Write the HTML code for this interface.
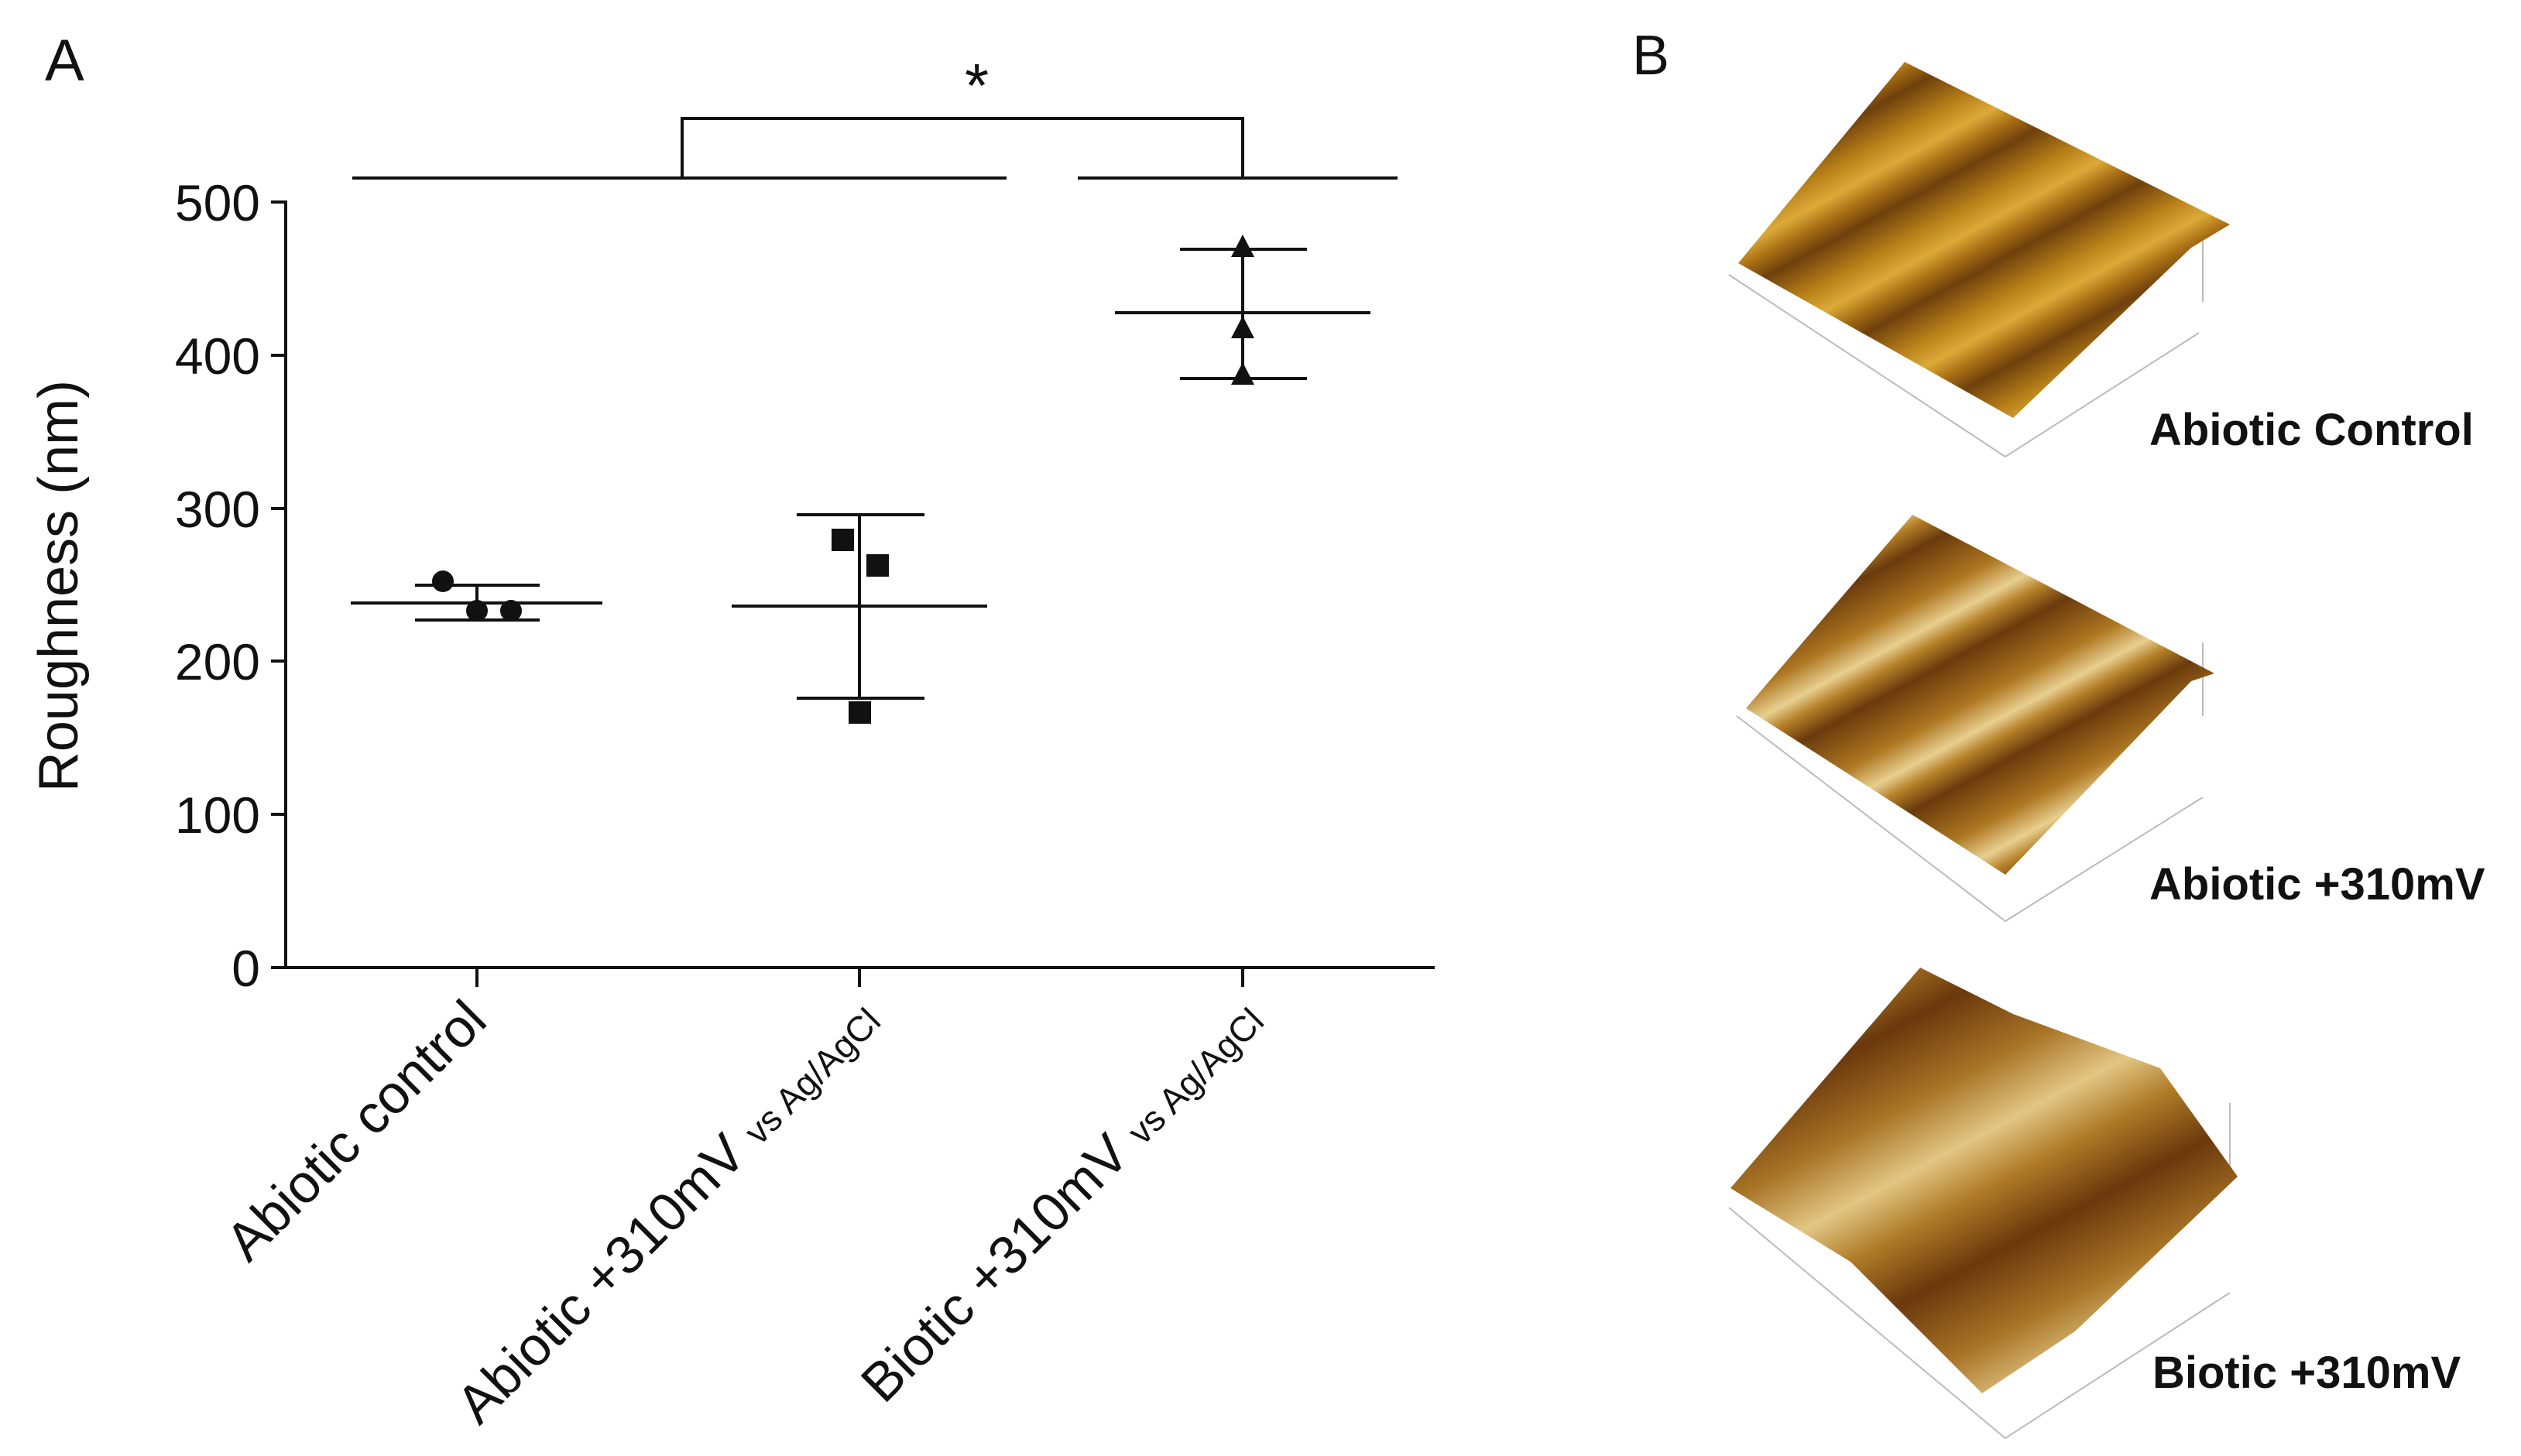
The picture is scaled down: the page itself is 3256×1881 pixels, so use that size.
<!DOCTYPE html>
<html><head><meta charset="utf-8"><style>
html,body{margin:0;padding:0;background:#fff;}
svg{display:block;}
text{font-family:"Liberation Sans",sans-serif;fill:#111;}
</style></head><body>
<svg width="3256" height="1881" viewBox="0 0 3256 1881" xmlns="http://www.w3.org/2000/svg">
<defs>
<linearGradient id="g1" gradientUnits="userSpaceOnUse" x1="2400" y1="150" x2="2460" y2="260" spreadMethod="repeat">
<stop offset="0" stop-color="#6e400c"/><stop offset="0.35" stop-color="#b88018"/><stop offset="0.6" stop-color="#dcaa38"/><stop offset="0.8" stop-color="#a86e14"/><stop offset="1" stop-color="#6e400c"/>
</linearGradient>
<linearGradient id="g2" gradientUnits="userSpaceOnUse" x1="2400" y1="750" x2="2470" y2="880" spreadMethod="repeat">
<stop offset="0" stop-color="#6a3a0c"/><stop offset="0.4" stop-color="#ad7620"/><stop offset="0.65" stop-color="#e8cf90"/><stop offset="0.8" stop-color="#b58028"/><stop offset="1" stop-color="#6a3a0c"/>
</linearGradient>
<linearGradient id="g3" gradientUnits="userSpaceOnUse" x1="2350" y1="1380" x2="2500" y2="1660" spreadMethod="repeat">
<stop offset="0" stop-color="#6a380c"/><stop offset="0.3" stop-color="#a87426"/><stop offset="0.55" stop-color="#e2c684"/><stop offset="0.75" stop-color="#b07c28"/><stop offset="1" stop-color="#6a380c"/>
</linearGradient>
</defs>

<!-- Panel A -->
<text x="58" y="104" font-size="76">A</text>
<text x="1246" y="138" font-size="80">*</text>
<g stroke="#111" stroke-width="4" fill="none">
<line x1="455" y1="230" x2="1300" y2="230"/>
<line x1="1392" y1="230" x2="1805" y2="230"/>
<polyline points="881,230 881,153 1605,153 1605,230"/>
<line x1="369" y1="259" x2="369" y2="1252"/>
<line x1="367" y1="1250" x2="1853" y2="1250"/>
<line x1="350" y1="261" x2="369" y2="261"/>
<line x1="350" y1="459" x2="369" y2="459"/>
<line x1="350" y1="657" x2="369" y2="657"/>
<line x1="350" y1="854" x2="369" y2="854"/>
<line x1="350" y1="1052" x2="369" y2="1052"/>
<line x1="350" y1="1250" x2="369" y2="1250"/>
<line x1="616" y1="1250" x2="616" y2="1275"/>
<line x1="1110" y1="1250" x2="1110" y2="1275"/>
<line x1="1605" y1="1250" x2="1605" y2="1275"/>
<line x1="453" y1="779" x2="778" y2="779"/>
<line x1="536" y1="756" x2="697" y2="756"/>
<line x1="536" y1="801" x2="697" y2="801"/>
<line x1="616" y1="756" x2="616" y2="801"/>
<line x1="945" y1="783" x2="1275" y2="783"/>
<line x1="1029" y1="665" x2="1194" y2="665"/>
<line x1="1029" y1="902" x2="1194" y2="902"/>
<line x1="1110" y1="665" x2="1110" y2="902"/>
<line x1="1440" y1="404" x2="1770" y2="404"/>
<line x1="1524" y1="322" x2="1688" y2="322"/>
<line x1="1524" y1="489" x2="1688" y2="489"/>
<line x1="1605" y1="322" x2="1605" y2="489"/>
</g>
<g fill="#111">
<circle cx="572" cy="751" r="14"/><circle cx="616" cy="789" r="14"/><circle cx="660" cy="789" r="14"/>
<rect x="1074" y="683" width="29" height="29"/><rect x="1119" y="716" width="29" height="29"/><rect x="1096" y="906" width="29" height="29"/>
<polygon points="1605,303 1590,332 1620,332"/><polygon points="1605,408 1590,437 1620,437"/><polygon points="1605,468 1590,497 1620,497"/>
</g>
<g font-size="66" text-anchor="end">
<text x="336" y="285">500</text><text x="336" y="483">400</text><text x="336" y="681">300</text>
<text x="336" y="878">200</text><text x="336" y="1076">100</text><text x="336" y="1274">0</text>
</g>
<text transform="translate(100,757) rotate(-90)" font-size="72" text-anchor="middle">Roughness (nm)</text>
<text transform="translate(632,1322) rotate(-45)" font-size="70" text-anchor="end">Abiotic control</text>
<text transform="translate(1140,1322) rotate(-45)" font-size="70" text-anchor="end">Abiotic +310mV <tspan font-size="46">vs Ag/AgCl</tspan></text>
<text transform="translate(1635,1322) rotate(-45)" font-size="70" text-anchor="end">Biotic +310mV <tspan font-size="46">vs Ag/AgCl</tspan></text>

<!-- Panel B -->
<text x="2108" y="96" font-size="72">B</text>
<g stroke="#bbb" stroke-width="2" fill="none">
<polyline points="2233,355 2590,590 2840,430"/><polyline points="2243,925 2590,1190 2845,1030"/><polyline points="2233,1560 2590,1858 2880,1670"/>
<line x1="2845" y1="285" x2="2845" y2="390"/><line x1="2845" y1="830" x2="2845" y2="925"/><line x1="2880" y1="1425" x2="2880" y2="1520"/>
</g>
<polygon points="2245,340 2460,80 2880,290 2830,320 2600,540" fill="url(#g1)"/>
<polygon points="2255,915 2470,665 2860,870 2830,880 2590,1130" fill="url(#g2)"/>
<polygon points="2235,1535 2480,1250 2600,1310 2790,1380 2890,1520 2680,1720 2560,1800 2390,1630" fill="url(#g3)"/>
<g font-size="58" font-weight="bold">
<text x="2776" y="575">Abiotic Control</text>
<text x="2776" y="1162">Abiotic +310mV</text>
<text x="2780" y="1793">Biotic +310mV</text>
</g>
</svg>
</body></html>
